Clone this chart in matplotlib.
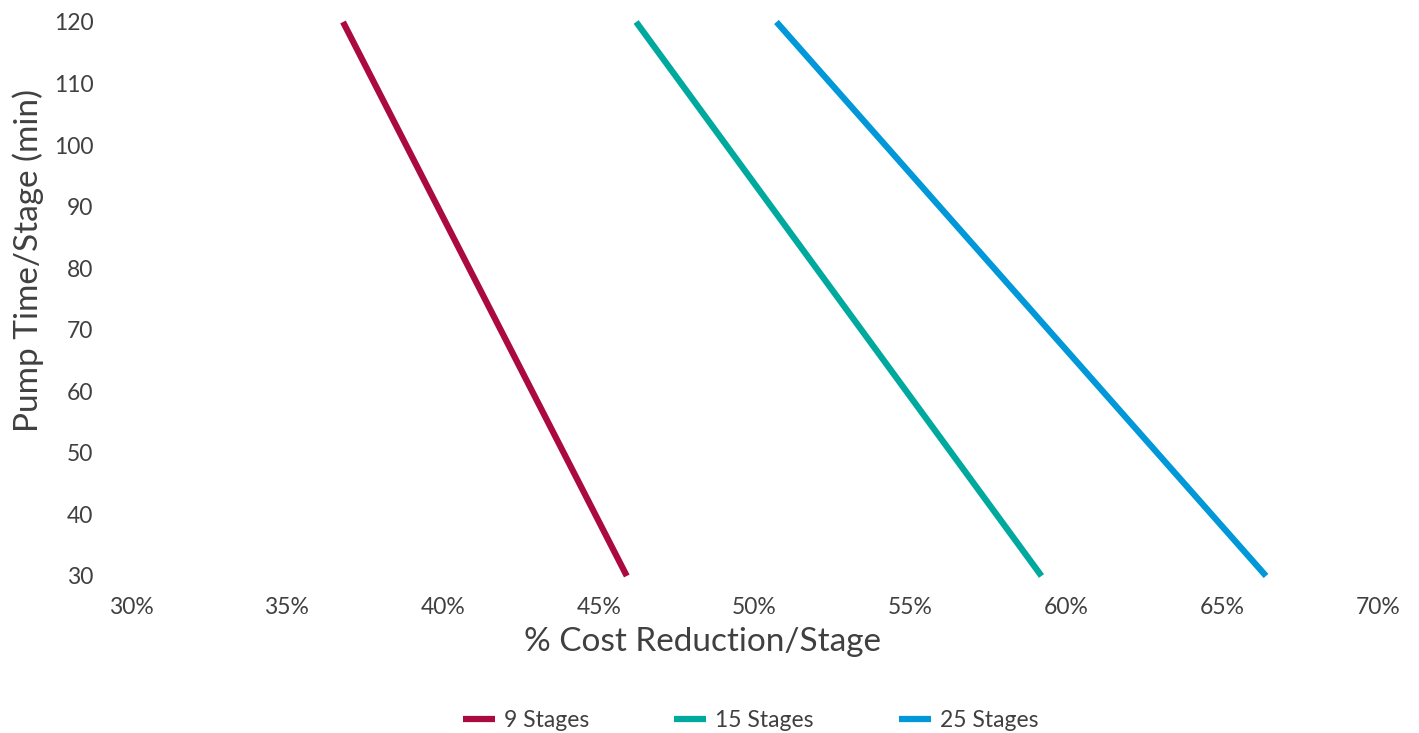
import matplotlib.pyplot as plt
from matplotlib.ticker import FuncFormatter

# data
pump_time = [120, 30]
stages_9 = [36.8, 45.9]
stages_15 = [46.2, 59.2]
stages_25 = [50.7, 66.4]
series_names = ['9 Stages', '15 Stages', '25 Stages']
colors = ['#AA0A3F', '#00A99D', '#0098D8']

plt.rcParams['font.family'] = ['Lato', 'DejaVu Sans']
text_color = '#404040'

fig = plt.figure(figsize=(14.19, 7.33), dpi=100)
ax = fig.add_axes([0.0923, 0.2142, 0.879, 0.7558])

for xs, name, c in zip([stages_9, stages_15, stages_25], series_names, colors):
    ax.plot(xs, pump_time, color=c, linewidth=4.5, label=name, solid_capstyle='butt',
            clip_on=False)

ax.set_xlim(30, 70)
ax.set_ylim(30, 120)
ax.set_xticks(range(30, 71, 5))
ax.set_yticks(range(30, 121, 10))
ax.xaxis.set_major_formatter(FuncFormatter(lambda v, p: f'{v:.0f}%'))

for s in ax.spines.values():
    s.set_visible(False)
ax.tick_params(length=0, labelsize=16.5, colors=text_color)
ax.tick_params(axis='x', pad=15)
ax.tick_params(axis='y', pad=27)

# axis titles sit off-centre in the reference, so place them on the figure
fig.text(702 / 1419, 1 - 642 / 733, '% Cost Reduction/Stage', fontsize=24,
         color=text_color, ha='center', va='center')
fig.text(28 / 1419, 1 - 260 / 733, 'Pump Time/Stage (min)', fontsize=24,
         color=text_color, ha='center', va='center', rotation=90)

fig.legend(loc='lower center', bbox_to_anchor=(0.529, -0.025), ncol=3, frameon=False,
           fontsize=16.5, labelcolor=text_color, handlelength=1.4, columnspacing=3.7,
           handletextpad=0.4)

fig.savefig('out.png', dpi=100)
